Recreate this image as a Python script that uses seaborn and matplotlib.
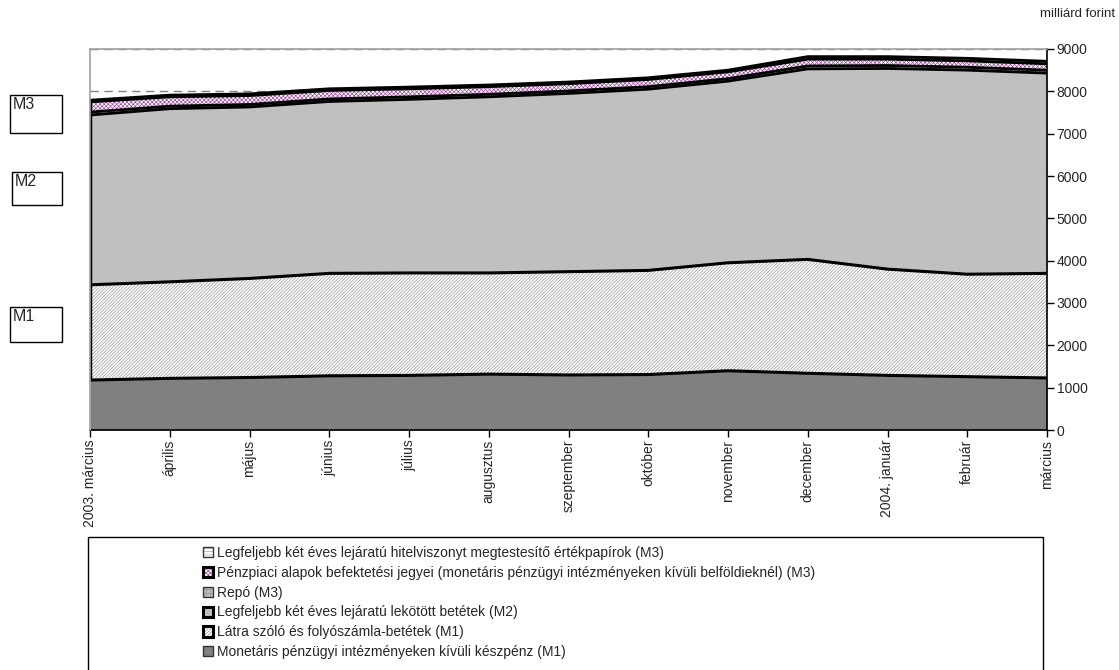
import matplotlib
matplotlib.use("Agg")

import numpy as np
import pandas as pd
import matplotlib.pyplot as plt
import seaborn as sns
from matplotlib.patches import Patch, Rectangle
from matplotlib.legend_handler import HandlerTuple

# -----------------------------------------------------------------------------
# data (milliárd forint)
# -----------------------------------------------------------------------------
months = ["2003. március", "április", "május", "június", "július", "augusztus",
          "szeptember", "október", "november", "december", "2004. január",
          "február", "március"]

cash = [1180, 1220, 1240, 1280, 1290, 1320, 1300, 1310, 1400, 1340, 1290, 1260, 1230]
sight = [2250, 2280, 2340, 2420, 2420, 2390, 2440, 2460, 2550, 2690, 2510, 2420, 2470]
time_dep = [4010, 4090, 4050, 4060, 4100, 4160, 4210, 4280, 4290, 4500, 4740, 4820, 4730]
repo = [70, 60, 60, 60, 60, 60, 60, 60, 60, 70, 70, 70, 70]
mmf = [240, 220, 210, 200, 190, 180, 170, 170, 160, 160, 150, 150, 150]
debt = [40, 40, 40, 40, 40, 40, 40, 40, 40, 60, 60, 60, 60]

labels = [
    "Monetáris pénzügyi intézményeken kívüli készpénz (M1)",
    "Látra szóló és folyószámla-betétek (M1)",
    "Legfeljebb két éves lejáratú lekötött betétek (M2)",
    "Repó (M3)",
    "Pénzpiaci alapok befektetési jegyei (monetáris pénzügyi intézményeken kívüli belföldieknél) (M3)",
    "Legfeljebb két éves lejáratú hitelviszonyt megtestesítő értékpapírok (M3)",
]

y_ticks = list(range(0, 9001, 1000))

# -----------------------------------------------------------------------------
# style
# -----------------------------------------------------------------------------
sns.set_theme(style="white")
plt.rcParams["font.family"] = ["Liberation Sans", "DejaVu Sans"]
plt.rcParams["hatch.linewidth"] = 0.45

faces = ["#808080", "white", "#c0c0c0", "#c0c0c0", "white", "white"]
hatch_colors = ["#808080", "#8c8c8c", "#c0c0c0", "#909090", "#9a3d9a", "#a0a0a0"]
hatches = [None, "/" * 10, None, "++++", "xxxxxxxx", "-----"]
line_widths = [2.2, 2.2, 2.0, 2.0, 2.0, 2.0]

layers = [cash, sight, time_dep, repo, mmf, debt]
x = np.arange(len(months))
df = pd.DataFrame({lab: vals for lab, vals in zip(labels, layers)}, index=x)
cum = df.cumsum(axis=1)

fig = plt.figure(figsize=(11.19, 6.70), dpi=100)
ax = fig.add_axes([90 / 1119, 1 - 430 / 670, (1047 - 90) / 1119, (430 - 49) / 670])

# fills
bottom = np.zeros(len(x))
for i, lab in enumerate(labels):
    top = cum[lab].values
    ax.fill_between(x, bottom, top, facecolor=faces[i], edgecolor=hatch_colors[i],
                    hatch=hatches[i], linewidth=0, zorder=2)
    bottom = top

# black boundary lines
for i, lab in enumerate(labels):
    sns.lineplot(x=x, y=cum[lab].values, ax=ax, color="black",
                 linewidth=line_widths[i], zorder=3, legend=False)
ax.plot([0, 0], [cash[0], cum[labels[-1]].values[0]], color="black",
        linewidth=2.5, zorder=3, solid_capstyle="butt")

# axes
ax.set_xlim(0, len(months) - 1)
ax.set_ylim(0, 9000)
ax.set_xticks(x)
ax.set_xticklabels(months, rotation=90, fontsize=10)
ax.set_yticks(y_ticks)
ax.set_yticklabels([str(v) for v in y_ticks], fontsize=10)
ax.yaxis.tick_right()
ax.tick_params(axis="both", direction="out", length=5, width=1, color="black",
               bottom=True, right=True, left=False, pad=2)
ax.yaxis.grid(True, linestyle=(0, (6, 4)), color="#808080", linewidth=1)
ax.set_axisbelow(True)
for side in ["top", "left"]:
    ax.spines[side].set_color("#a0a0a0")
    ax.spines[side].set_linewidth(1.2)
    ax.spines[side].set_zorder(4)
for side in ["bottom", "right"]:
    ax.spines[side].set_color("black")
    ax.spines[side].set_linewidth(1.2)
ax.set_xlabel("")
ax.set_ylabel("")

fig.text(1115 / 1119, 1 - 14 / 670, "milliárd forint", ha="right", va="center",
         fontsize=9.5)

# M1/M2/M3 boxes on the left
for name, (x0, y0, x1, y1) in {"M3": (10, 95, 62, 133),
                               "M2": (12, 172, 62, 205),
                               "M1": (10, 307, 62, 342)}.items():
    fig.patches.append(Rectangle((x0 / 1119, 1 - y1 / 670), (x1 - x0) / 1119,
                                 (y1 - y0) / 670, transform=fig.transFigure,
                                 facecolor="white", edgecolor="black", linewidth=1))
    fig.text((x0 + 3) / 1119, 1 - (y0 + 2) / 670, name, ha="left", va="top",
             fontsize=11.5)

# legend box
fig.patches.append(Rectangle((88 / 1119, -0.01), (1043 - 88) / 1119,
                             0.01 + 1 - 537 / 670, transform=fig.transFigure,
                             facecolor="white", edgecolor="black", linewidth=1))

handles = []
for i in range(len(labels)):
    fill = Patch(facecolor=faces[i], edgecolor=hatch_colors[i], hatch=hatches[i],
                 linewidth=0)
    thin = i in (0, 3, 5)
    edge = Patch(facecolor="none", edgecolor="#333333" if thin else "black",
                 linewidth=1.0 if thin else 2.2)
    handles.append((fill, edge))

leg = fig.legend(handles[::-1], labels[::-1], loc="upper left",
                 bbox_to_anchor=(196 / 1119, 1 - 539 / 670), frameon=False,
                 fontsize=10, handlelength=0.75, handleheight=0.75,
                 handletextpad=0.25, labelspacing=0.42, borderpad=0,
                 handler_map={tuple: HandlerTuple(ndivide=1, pad=0)})

fig.savefig("out.png", dpi=100)
